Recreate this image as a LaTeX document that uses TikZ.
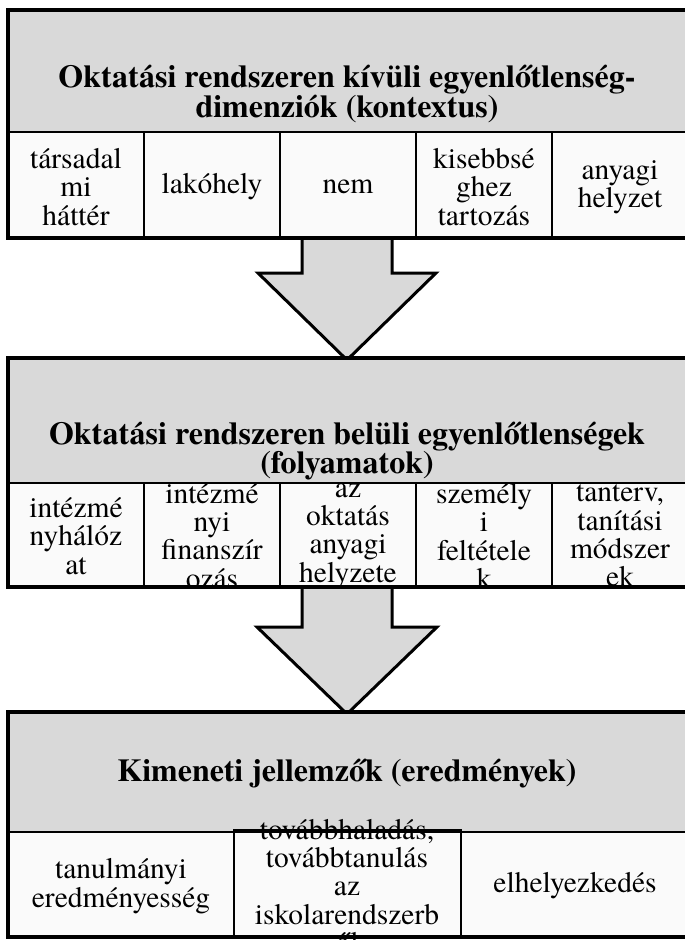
\documentclass[tikz,border=0pt]{standalone}
\usepackage{fontspec}
\setmainfont{texgyretermes}[Extension=.otf,UprightFont=*-regular,BoldFont=*-bold,ItalicFont=*-italic,BoldItalicFont=*-bolditalic]
\definecolor{hdr}{HTML}{D9D9D9}
\definecolor{cellbg}{HTML}{FAFAFA}
\begin{document}
\begin{tikzpicture}[x=1pt,y=-1pt,
  ttl/.style={align=center,font=\fontsize{32}{28}\selectfont\bfseries,inner sep=0pt},
  ctext/.style={align=center,font=\fontsize{29.5}{28.3}\selectfont,inner sep=0pt},
  frame/.style={line width=4pt},
  divider/.style={line width=2pt},
  blockarrow/.style={fill=hdr},
  arrowline/.style={draw=black,line width=3pt,line join=miter}]
\useasboundingbox (0,0) rectangle (685,940);
\clip (0,0) rectangle (685,940);
\fill[white] (0,0) rectangle (685,940);

% ---------- box 1 ----------
\fill[hdr] (8,10) rectangle (692,132);
\fill[cellbg] (8,132) rectangle (692,238);
\node[ttl] (t1) at (347,94) {Oktatási rendszeren kívüli egyenlőtlenség-\\dimenziók (kontextus)};
\node[ctext] (c11) at (76,187) {társadal\\mi\\háttér};
\node[ctext] (c12) at (212,187) {lakóhely};
\node[ctext] (c13) at (348,187) {nem};
\node[ctext] (c14) at (484,187) {kisebbsé\\ghez\\tartozás};
\node[ctext] (c15) at (620,187) {anyagi\\helyzet};
\foreach \xx in {144,280,416,552} \draw[divider] (\xx,132) -- (\xx,238);
\draw[divider] (8,132) -- (692,132);
\draw[frame] (8,10) rectangle (692,238);

% ---------- arrow 1 ----------
\fill[blockarrow] (302,240) -- (302,273) -- (258,273) -- (347,360) -- (436,273) -- (392,273) -- (392,240) -- cycle;
\draw[arrowline] (302,240) -- (302,273) -- (258,273) -- (347,360) -- (436,273) -- (392,273) -- (392,240);

% ---------- box 2 ----------
\fill[hdr] (8,358) rectangle (692,483);
\fill[cellbg] (8,483) rectangle (692,587);
\node[ttl] (t2) at (347,451) {Oktatási rendszeren belüli egyenlőtlenségek\\(folyamatok)};
\begin{scope}
\clip (8,483) rectangle (692,587);
\node[ctext] (c21) at (76,536) {intézmé\\nyhálóz\\at};
\node[ctext] (c22) at (212,536) {intézmé\\nyi\\finanszír\\ozás};
\node[ctext] (c23) at (348,536) {az\\oktatás\\anyagi\\helyzete};
\node[ctext] (c24) at (484,536) {személy\\i\\feltétele\\k};
\node[ctext] (c25) at (620,536) {tanterv,\\tanítási\\módszer\\ek};
\end{scope}
\foreach \xx in {144,280,416,552} \draw[divider] (\xx,483) -- (\xx,587);
\draw[divider] (8,483) -- (692,483);
\draw[frame] (8,358) rectangle (692,587);

% ---------- arrow 2 ----------
\fill[blockarrow] (302,589) -- (302,627) -- (257,627) -- (347,714) -- (437,627) -- (392,627) -- (392,589) -- cycle;
\draw[arrowline] (302,589) -- (302,627) -- (257,627) -- (347,714) -- (437,627) -- (392,627) -- (392,589);

% ---------- box 3 ----------
\fill[hdr] (8,712) rectangle (692,831);
\fill[cellbg] (8,831) rectangle (692,937);
\node[ttl] (t3) at (347,774) {Kimeneti jellemzők (eredmények)};
\node[ctext] (c31) at (121,886) {tanulmányi\\eredményesség};
\node[ctext] (c32) at (347,886) {továbbhaladás,\\továbbtanulás\\az\\iskolarendszerb\\ől};
\node[ctext] (c33) at (575,886) {elhelyezkedés};
\draw[divider] (8,832) -- (692,832);
\draw[divider] (234,830) rectangle (461,936);
\draw[frame] (8,712) rectangle (692,937);
\end{tikzpicture}
\end{document}
